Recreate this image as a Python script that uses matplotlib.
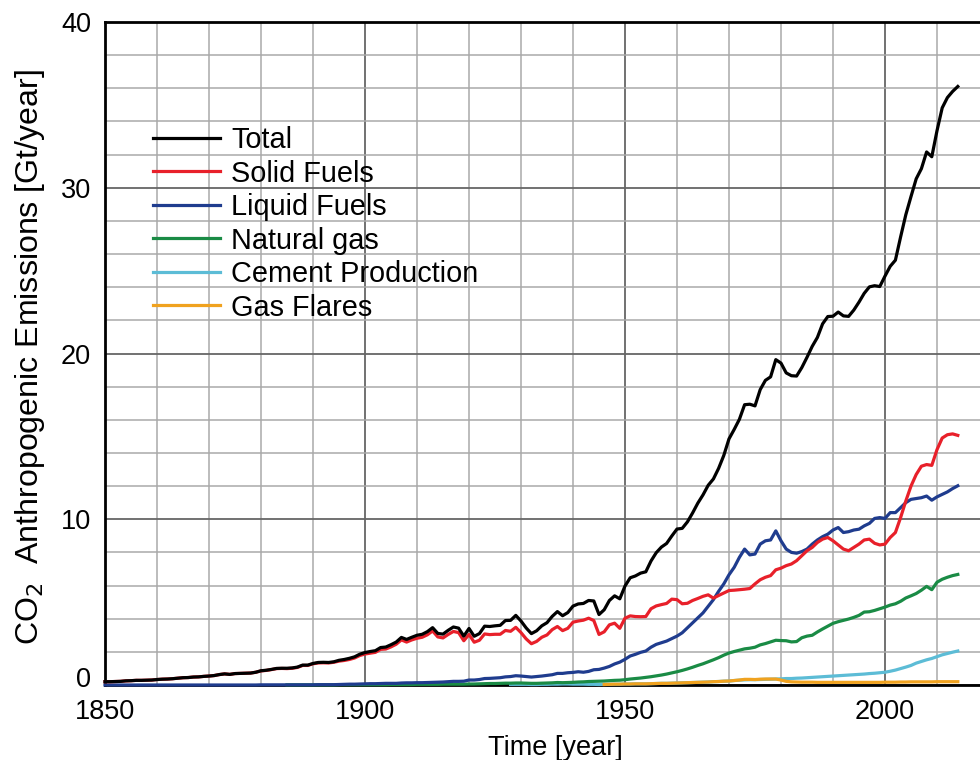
import numpy as np
import matplotlib
matplotlib.use("Agg")
import matplotlib.pyplot as plt
from matplotlib.ticker import MultipleLocator
from matplotlib.transforms import ScaledTranslation

plt.rcParams['font.family'] = ['Liberation Sans', 'DejaVu Sans']

# ---------------- data (Gt CO2 / year) ----------------
year_start = 1850
total = [
    0.20, 0.20, 0.21, 0.22, 0.25, 0.26, 0.28, 0.28, 0.29, 0.30,
    0.33, 0.35, 0.36, 0.38, 0.41, 0.44, 0.45, 0.48, 0.49, 0.52,
    0.54, 0.57, 0.63, 0.67, 0.64, 0.69, 0.70, 0.71, 0.72, 0.77,
    0.86, 0.89, 0.94, 1.00, 1.01, 1.01, 1.03, 1.08, 1.20, 1.20,
    1.30, 1.36, 1.37, 1.36, 1.40, 1.49, 1.54, 1.61, 1.70, 1.86,
    1.96, 2.02, 2.07, 2.26, 2.29, 2.43, 2.59, 2.87, 2.75, 2.88,
    3.00, 3.06, 3.22, 3.46, 3.11, 3.07, 3.30, 3.50, 3.43, 2.95,
    3.41, 2.94, 3.10, 3.55, 3.53, 3.57, 3.60, 3.89, 3.90, 4.20,
    3.86, 3.44, 3.10, 3.27, 3.57, 3.76, 4.14, 4.43, 4.18, 4.37,
    4.76, 4.89, 4.92, 5.10, 5.07, 4.25, 4.54, 5.10, 5.38, 5.20,
    5.97, 6.47, 6.58, 6.75, 6.83, 7.48, 7.98, 8.32, 8.54, 8.99,
    9.41, 9.45, 9.84, 10.38, 10.97, 11.47, 12.05, 12.43, 13.07, 13.85,
    14.85, 15.42, 16.03, 16.91, 16.94, 16.84, 17.82, 18.38, 18.59, 19.63,
    19.42, 18.83, 18.66, 18.64, 19.15, 19.77, 20.43, 20.97, 21.79, 22.23,
    22.25, 22.50, 22.27, 22.24, 22.62, 23.10, 23.63, 24.02, 24.09, 24.04,
    24.67, 25.26, 25.63, 27.03, 28.37, 29.47, 30.54, 31.15, 32.16, 31.87,
    33.44, 34.82, 35.44, 35.81, 36.11,
]
solid = [
    0.20, 0.20, 0.21, 0.22, 0.25, 0.26, 0.28, 0.28, 0.29, 0.30,
    0.33, 0.35, 0.36, 0.38, 0.41, 0.44, 0.45, 0.48, 0.49, 0.52,
    0.54, 0.57, 0.63, 0.67, 0.64, 0.69, 0.70, 0.71, 0.72, 0.77,
    0.85, 0.88, 0.93, 0.99, 1.00, 0.99, 1.01, 1.06, 1.18, 1.18,
    1.28, 1.33, 1.34, 1.33, 1.37, 1.44, 1.48, 1.54, 1.63, 1.78,
    1.87, 1.92, 1.97, 2.15, 2.17, 2.30, 2.46, 2.72, 2.59, 2.72,
    2.82, 2.88, 3.03, 3.26, 2.90, 2.84, 3.05, 3.23, 3.16, 2.67,
    3.05, 2.58, 2.70, 3.08, 3.04, 3.06, 3.06, 3.29, 3.24, 3.48,
    3.16, 2.78, 2.49, 2.63, 2.88, 3.02, 3.34, 3.53, 3.28, 3.42,
    3.79, 3.86, 3.91, 4.03, 3.89, 3.05, 3.21, 3.63, 3.73, 3.42,
    4.03, 4.17, 4.13, 4.12, 4.13, 4.60, 4.77, 4.85, 4.92, 5.18,
    5.15, 4.90, 4.93, 5.10, 5.22, 5.35, 5.44, 5.24, 5.40, 5.55,
    5.70, 5.72, 5.75, 5.78, 5.82, 6.10, 6.35, 6.50, 6.60, 6.95,
    7.05, 7.20, 7.30, 7.50, 7.80, 8.10, 8.30, 8.60, 8.80, 8.90,
    8.70, 8.45, 8.20, 8.10, 8.30, 8.50, 8.75, 8.80, 8.55, 8.45,
    8.50, 8.90, 9.20, 10.10, 11.10, 12.00, 12.70, 13.20, 13.30, 13.25,
    14.20, 14.90, 15.10, 15.15, 15.06,
]
liquid = [
    0.00, 0.00, 0.00, 0.00, 0.00, 0.00, 0.00, 0.00, 0.00, 0.00,
    0.00, 0.00, 0.00, 0.00, 0.00, 0.00, 0.00, 0.00, 0.00, 0.00,
    0.00, 0.00, 0.00, 0.00, 0.00, 0.00, 0.00, 0.00, 0.00, 0.00,
    0.01, 0.01, 0.01, 0.01, 0.01, 0.01, 0.01, 0.01, 0.01, 0.01,
    0.01, 0.02, 0.02, 0.02, 0.02, 0.03, 0.04, 0.05, 0.05, 0.06,
    0.07, 0.08, 0.08, 0.09, 0.10, 0.10, 0.10, 0.12, 0.13, 0.13,
    0.14, 0.14, 0.15, 0.16, 0.17, 0.18, 0.20, 0.22, 0.22, 0.23,
    0.30, 0.30, 0.33, 0.39, 0.40, 0.42, 0.44, 0.49, 0.51, 0.56,
    0.54, 0.51, 0.48, 0.51, 0.54, 0.58, 0.62, 0.70, 0.70, 0.74,
    0.76, 0.80, 0.77, 0.82, 0.92, 0.94, 1.02, 1.12, 1.27, 1.38,
    1.55, 1.75, 1.85, 1.97, 2.05, 2.28, 2.45, 2.55, 2.65, 2.80,
    2.95, 3.15, 3.45, 3.75, 4.05, 4.35, 4.75, 5.15, 5.65, 6.10,
    6.65, 7.10, 7.70, 8.20, 7.85, 7.90, 8.50, 8.70, 8.75, 9.30,
    8.70, 8.20, 8.00, 7.95, 8.05, 8.20, 8.50, 8.75, 8.95, 9.10,
    9.35, 9.50, 9.20, 9.25, 9.35, 9.40, 9.60, 9.75, 10.05, 10.10,
    10.05, 10.40, 10.40, 10.70, 11.00, 11.20, 11.25, 11.30, 11.40, 11.15,
    11.35, 11.50, 11.65, 11.85, 12.02,
]
gas_start = 1885
gas = [
    0.01, 0.01, 0.01, 0.01, 0.01, 0.01, 0.01, 0.01, 0.01, 0.01,
    0.02, 0.02, 0.02, 0.02, 0.02,
    0.02, 0.02, 0.02, 0.02, 0.02, 0.03, 0.03, 0.03, 0.03, 0.03,
    0.04, 0.04, 0.04, 0.04, 0.04, 0.05, 0.05, 0.05, 0.05, 0.05,
    0.06, 0.06, 0.07, 0.08, 0.09, 0.09, 0.10, 0.11, 0.11, 0.12,
    0.12, 0.11, 0.10, 0.10, 0.11, 0.12, 0.13, 0.15, 0.14, 0.15,
    0.16, 0.18, 0.19, 0.21, 0.22, 0.23, 0.24, 0.26, 0.28, 0.29,
    0.32, 0.36, 0.39, 0.42, 0.46, 0.50, 0.55, 0.60, 0.66, 0.73,
    0.80, 0.88, 0.97, 1.07, 1.18, 1.28, 1.40, 1.52, 1.65, 1.80,
    1.93, 2.02, 2.10, 2.18, 2.22, 2.28, 2.42, 2.50, 2.60, 2.70,
    2.68, 2.67, 2.60, 2.62, 2.85, 2.95, 3.00, 3.20, 3.38, 3.55,
    3.72, 3.82, 3.90, 3.98, 4.08, 4.20, 4.40, 4.42, 4.50, 4.60,
    4.70, 4.82, 4.90, 5.05, 5.25, 5.38, 5.52, 5.72, 5.95, 5.75,
    6.20, 6.38, 6.50, 6.60, 6.67,
]
cement_start = 1928
cement = [
    0.04, 0.04,
    0.04, 0.04, 0.03, 0.03, 0.04, 0.04, 0.05, 0.05, 0.06, 0.06,
    0.05, 0.05, 0.05, 0.04, 0.04, 0.03, 0.04, 0.04, 0.05, 0.05,
    0.06, 0.06, 0.07, 0.07, 0.07, 0.08, 0.09, 0.10, 0.10, 0.11,
    0.12, 0.13, 0.14, 0.15, 0.16, 0.17, 0.18, 0.20, 0.21, 0.23,
    0.24, 0.27, 0.29, 0.31, 0.32, 0.32, 0.33, 0.34, 0.35, 0.36,
    0.37, 0.39, 0.39, 0.41, 0.42, 0.44, 0.46, 0.48, 0.50, 0.52,
    0.54, 0.56, 0.58, 0.60, 0.62, 0.64, 0.66, 0.69, 0.71, 0.74,
    0.77, 0.83, 0.90, 0.99, 1.08, 1.18, 1.32, 1.42, 1.52, 1.60,
    1.71, 1.82, 1.90, 1.98, 2.05,
]
flares_start = 1946
flares = [
    0.03, 0.04, 0.05, 0.05,
    0.06, 0.06, 0.07, 0.07, 0.07, 0.08, 0.09, 0.10, 0.10, 0.11,
    0.12, 0.13, 0.14, 0.15, 0.16, 0.17, 0.18, 0.20, 0.21, 0.23,
    0.24, 0.27, 0.30, 0.34, 0.34, 0.33, 0.35, 0.36, 0.36, 0.36,
    0.30, 0.22, 0.19, 0.18, 0.17, 0.17, 0.17, 0.16, 0.16, 0.16,
    0.16, 0.16, 0.16, 0.16, 0.16, 0.16, 0.16, 0.16, 0.16, 0.16,
    0.17, 0.17, 0.17, 0.18, 0.18, 0.19, 0.19, 0.19, 0.19, 0.19,
    0.20, 0.20, 0.20, 0.20, 0.20,
]

labels = ["Total", "Solid Fuels", "Liquid Fuels", "Natural gas",
          "Cement Production", "Gas Flares"]
colors = ["#000000", "#e8202a", "#1f3c8e", "#1a8b45", "#5cbcd6", "#f0a21f"]
xticks = [1850, 1900, 1950, 2000]
yticks = [0, 10, 20, 30, 40]

series = [(total, year_start), (solid, year_start), (liquid, year_start),
          (gas, gas_start), (cement, cement_start), (flares, flares_start)]
zorders = [9, 8, 7, 5, 4, 6]

# ---------------- figure ----------------
fig = plt.figure(figsize=(9.8, 7.6), dpi=100)
ax = fig.add_axes([105 / 980, 1 - 685 / 760, 884 / 980, 663 / 760])

handles = []
for (vals, start), lab, col, z in zip(series, labels, colors, zorders):
    yrs = np.arange(start, start + len(vals))
    h, = ax.plot(yrs, vals, color=col, lw=2.3, label=lab, zorder=z,
                 clip_on=False, solid_joinstyle='round')
    handles.append(h)

ax.set_xlim(1850, 2020)
ax.set_ylim(0, 40)
ax.set_xticks(xticks)
ax.set_yticks(yticks)
ax.xaxis.set_minor_locator(MultipleLocator(10))
ax.yaxis.set_minor_locator(MultipleLocator(2))

ax.grid(which='minor', color='#a9a9a9', lw=1.1, zorder=0)
ax.grid(which='major', color='#666666', lw=1.3, zorder=0)
ax.set_axisbelow(True)

for side in ['left', 'top', 'bottom']:
    ax.spines[side].set_linewidth(2.0)
    ax.spines[side].set_color('black')
ax.spines['right'].set_visible(False)

ax.tick_params(which='both', length=0, labelsize=19.5, pad=10)

# raise the "0" label slightly, as in the reference
zero_lab = ax.yaxis.get_major_ticks()[0].label1
zero_lab.set_transform(zero_lab.get_transform() +
                       ScaledTranslation(0, 8 / 100, fig.dpi_scale_trans))

ax.set_xlabel("Time [year]", fontsize=19.5)
ax.xaxis.set_label_coords(0.51, -0.075)
ax.set_ylabel("CO$_2$  Anthropogenic Emissions [Gt/year]", fontsize=23.1)
ax.yaxis.set_label_coords(-0.066, 0.495)

leg = ax.legend(handles=handles, loc='upper left',
                bbox_to_anchor=(0.054, 0.843), frameon=False,
                fontsize=20.8, handlelength=2.33, handletextpad=0.38,
                labelspacing=0.19, borderpad=0, borderaxespad=0)
for line in leg.get_lines():
    line.set_linewidth(2.3)

fig.savefig("out.png", dpi=100)
